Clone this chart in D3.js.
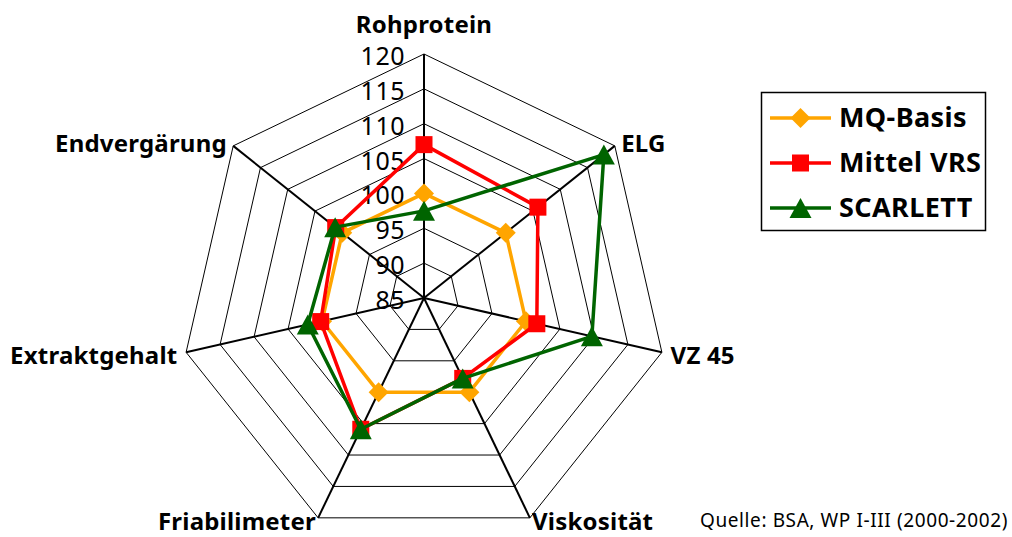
<!DOCTYPE html>
<html>
<head>
<meta charset="utf-8">
<script src="https://cdn.jsdelivr.net/npm/d3@7/dist/d3.min.js"></script>
<style>
  html, body { margin: 0; padding: 0; background: #fff; }
  svg { display: block; }
</style>
</head>
<body>
<svg id="chart" width="1012" height="537"></svg>
<script>
// ---- data ----
const categories = ["Rohprotein", "ELG", "VZ 45", "Viskosität", "Friabilimeter", "Extraktgehalt", "Endvergärung"];
const seriesNames = ["MQ-Basis", "Mittel VRS", "SCARLETT"];
const mqBasis   = [100, 100, 100, 100, 100, 100, 100];
const mittelVRS = [107, 105.9, 101.6, 97.8, 105.9, 100.2, 101.2];
const scarlett  = [97.5, 118, 109.7, 97.8, 105.9, 102.1, 101.3];
const tickValues = [85, 90, 95, 100, 105, 110, 115, 120];
const sourceText = "Quelle: BSA, WP I-III (2000-2002)";

// ---- layout ----
const svg = d3.select("#chart");
const cx = 424, cy = 298, R = 244;
const FONT = "'Noto Sans', 'Open Sans', 'DejaVu Sans', sans-serif";
const colors = ["#FFA500", "#FF0000", "#006400"];
const shapes = ["diamond", "square", "triangle"];
const seriesData = [mqBasis, mittelVRS, scarlett];

const r = d3.scaleLinear().domain([85, 120]).range([0, R]);
const angle = d3.scaleLinear().domain([0, categories.length]).range([0, 2 * Math.PI]);

function pt(i, v) {
  const a = angle(i);
  return [cx + r(v) * Math.sin(a), cy - r(v) * Math.cos(a)];
}

const g = svg.append("g");

// rings
tickValues.filter(t => t > 85).forEach(t => {
  const pts = categories.map((c, i) => pt(i, t));
  g.append("path")
    .attr("d", d3.line()(pts) + "Z")
    .attr("fill", "none")
    .attr("stroke", "#000")
    .attr("stroke-width", 1);
});

// axes
categories.forEach((c, i) => {
  const p = pt(i, 120);
  g.append("line")
    .attr("x1", cx).attr("y1", cy)
    .attr("x2", p[0]).attr("y2", p[1])
    .attr("stroke", "#000").attr("stroke-width", 2);
});

// tick labels
tickValues.forEach(t => {
  g.append("text")
    .attr("x", cx - 19)
    .attr("y", cy - r(t) + 11)
    .attr("text-anchor", "end")
    .attr("font-family", FONT)
    .attr("font-size", 25)
    .attr("letter-spacing", 0.5)
    .attr("fill", "#000")
    .text(t);
});

// category labels
categories.forEach((c, i) => {
  const a = angle(i);
  const s = Math.sin(a), co = Math.cos(a);
  const p = pt(i, 120);
  let anchor, x, y;
  if (Math.abs(s) < 0.1) {
    anchor = "middle"; x = p[0]; y = p[1] - 21;
  } else {
    anchor = s > 0 ? "start" : "end";
    x = p[0] + Math.sign(s) * (12 * Math.abs(s) - 3);
    y = Math.min(p[1] + 10.4 - 7.2 * co, 530);
  }
  g.append("text")
    .attr("x", x).attr("y", y)
    .attr("text-anchor", anchor)
    .attr("font-family", FONT)
    .attr("font-weight", "bold")
    .attr("font-size", 24)
    .attr("letter-spacing", 0.2)
    .attr("fill", "#000")
    .text(c);
});

// markers
function marker(sel, shape, x, y, color) {
  if (shape === "diamond") {
    const h = 10;
    sel.append("path")
      .attr("d", `M${x},${y - h}L${x + h},${y}L${x},${y + h}L${x - h},${y}Z`)
      .attr("fill", color);
  } else if (shape === "square") {
    const h = 8.5;
    sel.append("rect")
      .attr("x", x - h).attr("y", y - h)
      .attr("width", 2 * h).attr("height", 2 * h)
      .attr("fill", color);
  } else {
    const w = 11, hh = 10;
    sel.append("path")
      .attr("d", `M${x},${y - hh}L${x + w},${y + hh}L${x - w},${y + hh}Z`)
      .attr("fill", color);
  }
}

// series
seriesData.forEach((vals, k) => {
  const pts = vals.map((v, i) => pt(i, v));
  const sg = g.append("g");
  sg.append("path")
    .attr("d", d3.line()(pts) + "Z")
    .attr("fill", "none")
    .attr("stroke", colors[k])
    .attr("stroke-width", 3.5)
    .attr("stroke-linejoin", "round");
  pts.forEach(p => marker(sg, shapes[k], p[0], p[1], colors[k]));
});

// legend
const lg = svg.append("g");
lg.append("rect")
  .attr("x", 761.5).attr("y", 92.5)
  .attr("width", 224).attr("height", 138)
  .attr("fill", "#fff")
  .attr("stroke", "#000").attr("stroke-width", 1.5);
const legendY = d3.scalePoint().domain(seriesNames).range([118, 208]);
seriesNames.forEach((name, k) => {
  const y = legendY(name);
  lg.append("line")
    .attr("x1", 770).attr("x2", 831)
    .attr("y1", y).attr("y2", y)
    .attr("stroke", colors[k]).attr("stroke-width", 3.5);
  marker(lg, shapes[k], 800.5, y, colors[k]);
  lg.append("text")
    .attr("x", 839).attr("y", y + 9)
    .attr("font-family", FONT)
    .attr("font-weight", "bold")
    .attr("font-size", 27)
    .attr("letter-spacing", 0.4)
    .attr("fill", "#000")
    .text(name);
});

// source
svg.append("text")
  .attr("x", 1008).attr("y", 527)
  .attr("text-anchor", "end")
  .attr("font-family", FONT)
  .attr("font-size", 19)
  .attr("letter-spacing", 0.6)
  .attr("fill", "#000")
  .text(sourceText);
</script>
</body>
</html>
